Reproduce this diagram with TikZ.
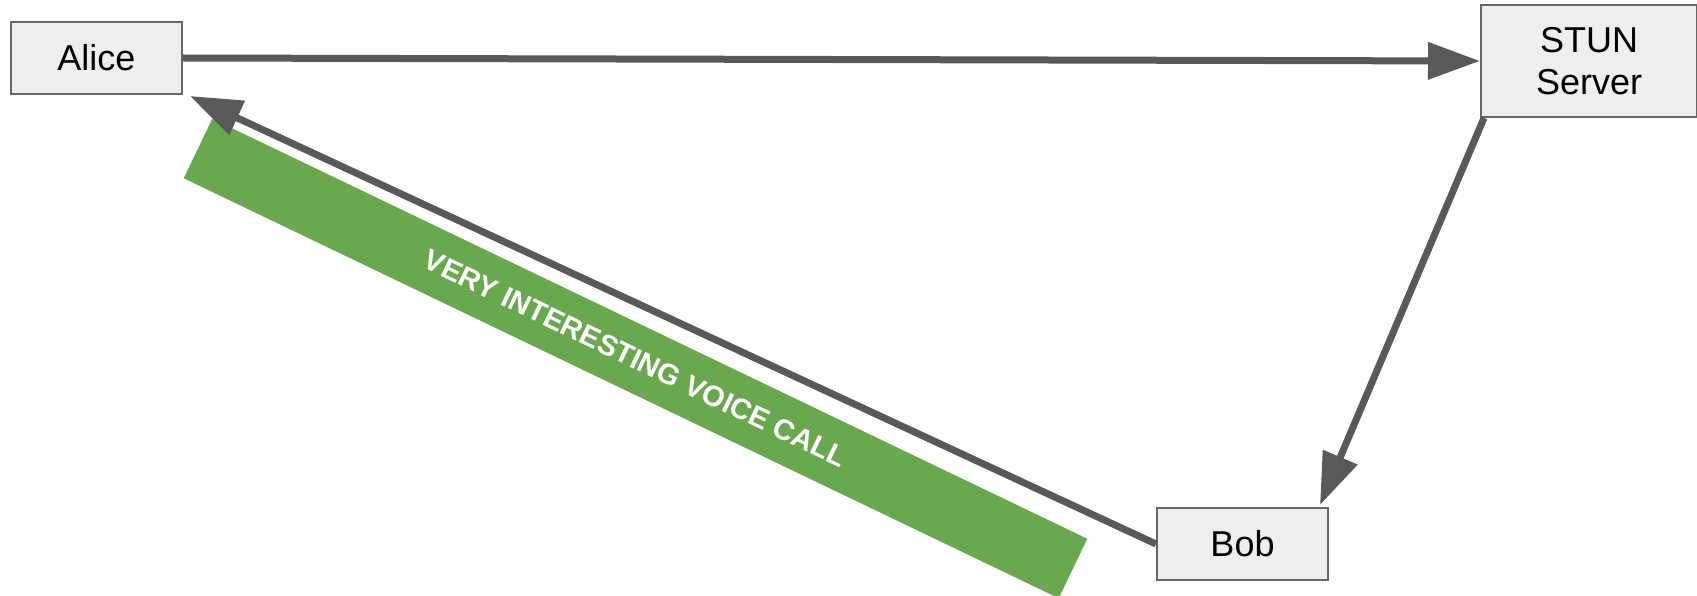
\documentclass[tikz,border=0pt]{standalone}
\usepackage{fontspec}
\setmainfont{Liberation Sans}
\usetikzlibrary{arrows.meta,calc}
\definecolor{boxfill}{HTML}{EEEEEE}
\definecolor{boxline}{HTML}{666666}
\definecolor{arrowc}{HTML}{595959}
\definecolor{callgreen}{HTML}{6AA84F}
\begin{document}
\begin{tikzpicture}[x=1pt,y=-1pt,
  box/.style={draw=boxline, line width=2pt, fill=boxfill, inner sep=0pt, align=center,
    font=\fontsize{36}{41.4}\selectfont},
  link/.style={draw=arrowc, line width=7pt, -{Triangle[length=52pt,width=36pt]}},
  band/.style={fill=callgreen, text=white, inner sep=0pt,
    minimum width=970.6pt, minimum height=66pt,
    font=\bfseries\fontsize{29}{34}\selectfont}]
\useasboundingbox (0,0) rectangle (1697,596);
\clip (0,0) rectangle (1697,596);
\node[band, rotate=-25.64] (call) at (635.5,358.5) {VERY INTERESTING VOICE CALL};
\node[box, minimum width=171pt, minimum height=72pt] (alice) at (96.5,58) {Alice};
\node[box, minimum width=216pt, minimum height=112pt] (stun) at (1589,61) {STUN\\Server};
\node[box, minimum width=171pt, minimum height=72pt] (bob) at (1242.5,544) {Bob};
\draw[link] (alice.east) -- (stun.west);
\draw[link] ($(stun.south west)+(4,0)$) -- ($(bob.north east)+(-9,-2)$);
\draw[link] (bob.west) -- ($(alice.south east)+(7,1)$);
\end{tikzpicture}
\end{document}
